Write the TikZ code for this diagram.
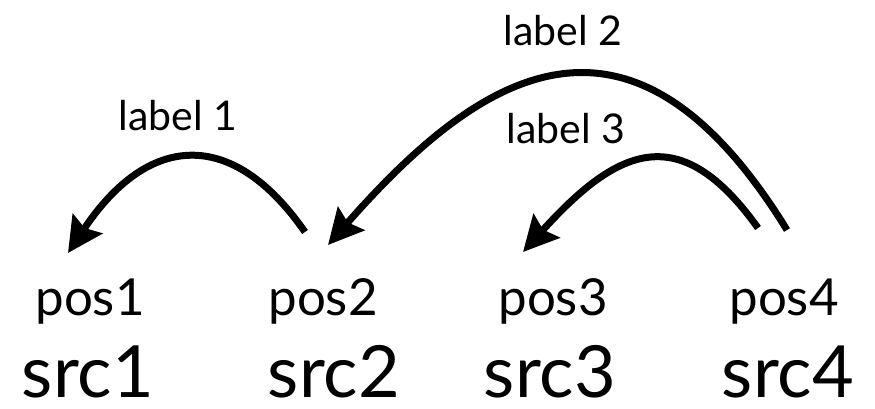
\documentclass[tikz,border=0pt]{standalone}
\usepackage{fontspec}
\setmainfont{Lato}
\usetikzlibrary{arrows.meta,calc}
\begin{document}
\begin{tikzpicture}[x=1pt,y=-1pt,
  posnode/.style={anchor=base,inner sep=0pt,font=\fontsize{51}{60}\selectfont},
  srcnode/.style={anchor=base,inner sep=0pt,text depth=0pt,font=\fontsize{72}{80}\selectfont},
  lbl/.style={anchor=base,inner sep=0pt,font=\fontsize{41}{48}\selectfont},
  hop/.style={line width=7pt,-{Stealth[length=35pt,width=35pt,inset=5pt]}}]
\useasboundingbox (0,0) rectangle (875,408);

% positions and sources
\node[posnode] (p1) at (90,315) {pos1};
\node[posnode] (p2) at (323,315) {pos2};
\node[posnode] (p3) at (553,315) {pos3};
\node[posnode] (p4) at (784,315) {pos4};
\node[srcnode] (s1) at (88,397) {src1};
\node[srcnode] (s2) at (334,397) {src2};
\node[srcnode] (s3) at (550,397) {src3};
\node[srcnode] (s4) at (788,397) {src4};

% arc end points above the position labels
\coordinate (a1from) at ($(p2.base)+(-18,-83)$);
\coordinate (a1to)   at ($(p1.base)+(-22,-62)$);
\coordinate (a2from) at ($(p4.base)+(3,-85)$);
\coordinate (a2to)   at ($(p2.base)+(5,-70)$);
\coordinate (a3from) at ($(p4.base)+(-26,-87)$);
\coordinate (a3to)   at ($(p3.base)+(-30,-63)$);

% arcs
\draw[hop] (a1from) .. controls (232,127) and (148,133) .. (a1to);
\draw[hop] (a2from) .. controls (630,-25) and (480,72) .. (a2to);
\draw[hop] (a3from) .. controls (680,119) and (618,147) .. (a3to);

% arc labels
\node[lbl] (l1) at (178,130) {label 1};
\node[lbl] (l2) at (563,45) {label 2};
\node[lbl] (l3) at (566,143) {label 3};
\end{tikzpicture}
\end{document}
